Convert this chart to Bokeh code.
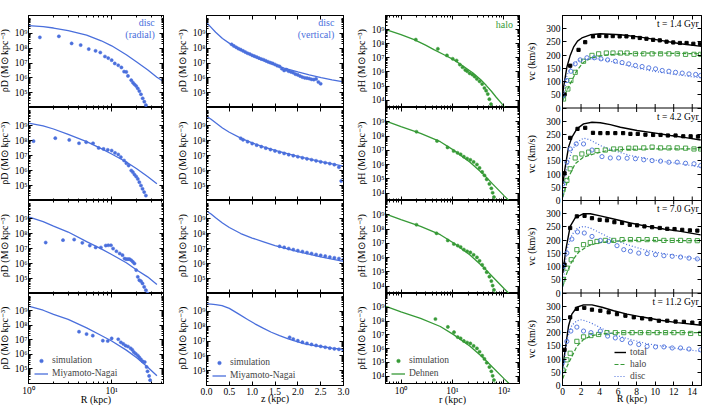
import numpy as np
from bokeh.plotting import figure
from bokeh.layouts import row, column
from bokeh.models import (Range1d, FixedTicker, CustomJSTickFormatter, NumeralTickFormatter,
                          LinearAxis, LogAxis, Span, Legend, LegendItem, Label)
from bokeh.core.properties import value
from bokeh.embed import file_html
from bokeh.resources import INLINE

FONT = "Liberation Serif"
TICK_FS = "9.5px"
LABEL_FS = "10px"
BLUE = "#4a6fdc"
GREEN = "#379a37"
TIMES = ["1.4", "4.2", "7.0", "11.2"]

# ---------------- disc, radial profile (R in kpc, log10 rho) ----------------
RAD_R_SIM_1 = [1.37, 2.32, 3.3, 4.24, 5.3, 6.4, 7.3, 8.3, 9.1, 10.0, 10.9, 12.0, 13.1, 14.1, 15.0,
               15.7, 17.2, 18.0, 18.8, 19.7, 20.6, 21.5, 22.5, 23.6, 24.7, 25.8]
RAD_LOGRHO_SIM_1 = [8.73, 8.80, 8.32, 8.21, 7.94, 7.82, 7.71, 7.44, 7.33, 7.19, 6.97, 6.85, 6.70, 6.42,
                    6.40, 6.13, 5.84, 5.68, 5.56, 5.45, 5.29, 5.11, 4.89, 4.62, 4.39, 4.16]
RAD_R_SIM_2 = [1.15, 2.1, 3.09, 4.05, 4.94, 5.97, 6.97, 7.98, 8.97, 10.0, 10.96, 12.0, 12.9, 14.1, 15.0,
               16.0, 17.2, 18.0, 18.8, 19.7, 20.6, 21.5, 22.5, 23.5, 24.6, 25.8]
RAD_LOGRHO_SIM_2 = [7.96, 8.16, 8.04, 7.82, 7.89, 7.82, 7.51, 7.44, 7.38, 7.33, 7.18, 7.07, 6.89, 6.67,
                    6.49, 6.33, 6.0, 5.89, 5.73, 5.6, 5.44, 5.22, 5.0, 4.78, 4.56, 4.33]
RAD_R_SIM_3 = [1.61, 2.6, 3.54, 4.44, 5.46, 6.42, 7.42, 8.5, 9.1, 9.8, 10.4, 11.4, 12.5, 13.5, 14.3, 15.0,
               15.7, 16.4, 17.2, 18.0, 18.8, 19.7, 20.6, 21.5, 22.5, 23.5, 24.6, 25.8, 27.0]
RAD_LOGRHO_SIM_3 = [7.4, 7.56, 7.6, 7.38, 7.2, 7.07, 7.07, 7.2, 7.22, 7.22, 7.0, 6.82, 6.67, 6.56, 6.33,
                    6.29, 6.29, 6.29, 6.22, 6.11, 6.0, 5.56, 5.11, 4.89, 4.82, 4.67, 4.44, 4.22, 4.0]
RAD_R_SIM_4 = [4.05, 4.99, 5.93, 7.83, 8.97, 10.0, 12.0, 12.9, 13.8, 14.7, 15.7, 16.9, 17.7, 18.5, 19.5,
               20.6, 21.5, 22.5, 23.7, 25.0, 26.3, 27.0, 28.2, 29.0]
RAD_LOGRHO_SIM_4 = [7.57, 7.41, 7.3, 6.95, 6.93, 7.11, 7.05, 6.84, 6.73, 6.61, 6.55, 6.43, 6.32, 6.16,
                    6.05, 5.93, 5.8, 5.66, 5.52, 5.48, 5.14, 4.84, 4.52, 4.23]
RAD_R_MN_1 = [1.0, 1.5, 2.0, 3.0, 5.0, 7.5, 10.0, 15.0, 20.0, 27.0, 35.0, 42.0]
RAD_LOGRHO_MN_1 = [9.52, 9.45, 9.36, 9.19, 8.88, 8.50, 8.16, 7.56, 7.07, 6.55, 6.04, 5.75]
RAD_R_MN = [1.0, 1.5, 2.0, 3.0, 5.0, 7.5, 10.0, 15.0, 20.0, 27.0, 35.0]
RAD_LOGRHO_MN_2 = [9.16, 8.98, 8.77, 8.41, 7.93, 7.46, 7.1, 6.57, 6.12, 5.6, 5.11]
RAD_LOGRHO_MN_3 = [9.11, 8.8, 8.5, 8.1, 7.46, 6.98, 6.6, 6.05, 5.57, 5.11, 4.6]
RAD_LOGRHO_MN_4 = [9.34, 9.05, 8.76, 8.42, 7.83, 7.31, 6.93, 6.3, 5.78, 5.14, 4.54]

# ---------------- disc, vertical profile (z in kpc, log10 rho) ----------------
VERT_Z_SIM_1 = [0.55, 0.6, 0.65, 0.7, 0.75, 0.8, 0.85, 0.9, 0.95, 1.0, 1.05, 1.1, 1.15, 1.2, 1.25, 1.3,
                1.35, 1.4, 1.45, 1.5, 1.55, 1.6, 1.65, 1.7, 1.75, 1.8, 1.85, 1.9, 1.95, 2.0, 2.05, 2.1,
                2.15, 2.2, 2.25, 2.3, 2.35, 2.4, 2.45, 2.5]
VERT_LOGRHO_SIM_1 = [8.26, 8.15, 8.06, 7.97, 7.9, 7.82, 7.74, 7.66, 7.6, 7.52, 7.46, 7.4, 7.33, 7.27, 7.22,
                     7.15, 7.08, 7.02, 6.97, 6.9, 6.82, 6.77, 6.62, 6.5, 6.55, 6.45, 6.4, 6.35, 6.25, 6.2,
                     6.12, 6.05, 6.0, 5.98, 5.95, 5.9, 5.88, 5.93, 5.72, 5.6]
VERT_Z_SIM_2 = [0.75, 0.8, 0.9, 1.0, 1.1, 1.2, 1.3, 1.4, 1.5, 1.6, 1.7, 1.8, 1.9, 2.0, 2.1, 2.2, 2.3, 2.4,
                2.5, 2.6, 2.7, 2.8, 2.9, 2.95]
VERT_LOGRHO_SIM_2 = [8.15, 8.05, 7.92, 7.8, 7.69, 7.59, 7.49, 7.4, 7.31, 7.22, 7.14, 7.06, 6.99, 6.92, 6.85,
                     6.78, 6.72, 6.65, 6.58, 6.52, 6.46, 6.39, 6.22, 5.3]
VERT_Z_SIM_3 = [1.6, 1.7, 1.8, 1.9, 2.0, 2.1, 2.2, 2.3, 2.4, 2.5, 2.6, 2.7, 2.8, 2.9, 3.0]
VERT_LOGRHO_SIM_3 = [7.15, 7.08, 7.0, 6.93, 6.86, 6.8, 6.73, 6.67, 6.6, 6.55, 6.49, 6.43, 6.38, 6.33, 6.28]
VERT_Z_SIM_4 = [1.82, 1.9, 2.0, 2.1, 2.2, 2.3, 2.4, 2.5, 2.6, 2.7, 2.8, 2.9, 3.0]
VERT_LOGRHO_SIM_4 = [7.25, 7.13, 7.02, 6.92, 6.84, 6.77, 6.7, 6.64, 6.58, 6.52, 6.47, 6.44, 6.4]
VERT_Z_MN_1 = [0.0, 0.1, 0.2, 0.35, 0.52, 0.7, 0.92, 1.15, 1.42, 1.7, 2.0, 2.25, 2.51, 2.75, 3.0]
VERT_LOGRHO_MN_1 = [9.73, 9.4, 9.07, 8.65, 8.29, 7.95, 7.62, 7.28, 6.96, 6.66, 6.4, 6.2, 6.02, 5.87, 5.73]
VERT_Z_MN = [0.0, 0.1, 0.2, 0.35, 0.5, 0.75, 1.0, 1.25, 1.5, 2.0, 2.5, 3.0]
VERT_LOGRHO_MN_2 = [9.62, 9.42, 9.18, 8.84, 8.55, 8.16, 7.84, 7.58, 7.34, 6.94, 6.6, 6.3]
VERT_LOGRHO_MN_3 = [9.5, 9.3, 9.05, 8.7, 8.4, 8.0, 7.7, 7.45, 7.2, 6.8, 6.45, 6.15]
VERT_Z_MN_4 = [0.0, 0.1, 0.2, 0.34, 0.5, 0.7, 0.9, 1.06, 1.25, 1.42, 1.6, 1.79, 2.0, 2.15, 2.3, 2.51, 2.75, 3.0]
VERT_LOGRHO_MN_4 = [9.51, 9.49, 9.45, 9.39, 9.2, 8.83, 8.45, 8.16, 7.85, 7.59, 7.37, 7.15, 6.95, 6.81,
                    6.72, 6.63, 6.52, 6.43]

# ---------------- halo, spherical profile (r in kpc, log10 rho) ----------------
HALO_R_SIM_1 = [1.94, 5.2, 7.8, 10.1, 12.0, 13.9, 15.7, 17.7, 19.3, 21.6, 24.3, 26.9, 29.8, 33.6, 37.7,
                41.7, 45.0, 48.4, 52.0, 56.0, 60.0]
HALO_LOGRHO_SIM_1 = [8.29, 7.64, 7.17, 6.93, 6.81, 6.52, 6.33, 6.14, 6.05, 5.9, 5.81, 5.67, 5.5, 5.33, 5.14,
                     4.86, 4.67, 4.43, 4.07, 3.71, 3.36]
HALO_R_SIM_2 = [2.0, 5.0, 8.0, 10.5, 12.5, 14.4, 16.6, 19.2, 22.2, 25.7, 29.8, 33.5, 37.7, 41.7, 46.2,
                52.0, 56.8, 60.2, 63.8, 66.7]
HALO_LOGRHO_SIM_2 = [8.3, 7.65, 7.2, 6.95, 6.82, 6.72, 6.55, 6.42, 6.33, 6.18, 6.0, 5.76, 5.48, 5.24, 4.96,
                     4.64, 4.33, 4.02, 3.72, 3.42]
HALO_R_SIM_3 = [2.0, 4.9, 8.1, 10.6, 12.6, 14.4, 16.6, 19.2, 22.2, 25.7, 29.8, 33.5, 37.7, 41.7, 46.2,
                52.0, 56.8, 60.2, 63.8, 66.7]
HALO_LOGRHO_SIM_3 = [8.3, 7.7, 7.2, 6.95, 6.84, 6.74, 6.56, 6.44, 6.36, 6.19, 6.01, 5.77, 5.49, 5.25, 4.97,
                     4.66, 4.35, 4.03, 3.73, 3.43]
HALO_R_SIM_4 = [4.66, 8.13, 10.7, 12.6, 14.4, 16.6, 19.2, 22.2, 25.7, 29.8, 33.5, 37.7, 41.7, 46.2, 52.0,
                56.8, 60.2, 63.8, 66.7]
HALO_LOGRHO_SIM_4 = [8.15, 7.58, 7.2, 6.84, 6.75, 6.56, 6.45, 6.38, 6.2, 6.02, 5.78, 5.5, 5.26, 4.98, 4.67,
                     4.36, 4.03, 3.73, 3.42]
HALO_R_FIT_1 = [0.51, 1.0, 1.8, 3.0, 4.35, 7.0, 10.5, 16.0, 25.0, 35.0, 45.0, 57.0, 70.0, 88.0, 108.0]
HALO_LOGRHO_FIT_1 = [9.0, 8.65, 8.29, 7.9, 7.58, 7.2, 6.87, 6.42, 5.92, 5.47, 5.05, 4.63, 4.22, 3.8, 3.4]
HALO_R_FIT = [0.51, 1.0, 2.4, 5.8, 10.5, 21.6, 39.0, 60.0, 100.0, 125.0]
HALO_LOGRHO_FIT_2 = [9.05, 8.66, 8.19, 7.6, 7.01, 6.18, 5.35, 4.64, 3.82, 3.47]
HALO_LOGRHO_FIT_3 = [9.05, 8.66, 8.19, 7.6, 7.02, 6.19, 5.36, 4.65, 3.83, 3.48]
HALO_LOGRHO_FIT_4 = [9.06, 8.67, 8.2, 7.61, 7.02, 6.19, 5.36, 4.65, 3.83, 3.48]

# ---------------- rotation curves (R in kpc, v_c in km/s) ----------------
TOT_LINE_R_1 = [0.04, 0.11, 0.29, 0.47, 0.83, 1.19, 1.62, 2.09, 3.0, 4.08, 6.25, 8.41, 10.58, 12.74, 15.0]
TOT_LINE_V_1 = [55, 78, 116, 154, 199, 230, 253, 265, 277, 281, 277, 268, 256, 243, 233]
TOT_SIM_R_1 = [0.22, 0.83, 1.73, 2.45, 3.29, 3.97, 4.73, 5.42, 6.17, 6.90, 7.62, 8.34, 9.06, 9.78, 10.50,
               11.23, 11.95, 12.67, 13.39, 14.12, 14.84]
TOT_SIM_V_1 = [51, 160, 220, 249, 271, 273, 272, 272, 271, 271, 268, 265, 262, 258, 256, 251, 248, 246, 246,
               243, 243]
HALO_SIM_R_1 = [0.11, 0.58, 0.90, 1.37, 2.27, 3.18, 3.90, 4.73, 5.45, 6.25, 6.97, 7.87, 8.77, 9.67, 10.58,
                11.48, 12.38, 13.28, 14.19, 14.91]
HALO_SIM_V_1 = [34, 72, 104, 135, 177, 199, 205, 208, 208, 208, 208, 205, 205, 205, 205, 205, 205, 203, 203, 203]
HALO_LINE_R_1 = [0.04, 0.47, 1.01, 1.55, 2.27, 3.18, 4.44, 6.25, 9.86, 15.0]
HALO_LINE_V_1 = [28, 66, 104, 142, 173, 190, 199, 205, 208, 205]
DISC_SIM_R_1 = [0.04, 0.47, 0.90, 1.37, 1.91, 2.64, 3.43, 4.15, 4.87, 5.70, 6.43, 7.15, 7.87, 8.59, 9.31,
                10.04, 10.76, 11.48, 12.20, 12.92, 13.65, 14.37, 14.9]
DISC_SIM_V_1 = [47, 104, 139, 167, 182, 190, 190, 186, 182, 177, 172, 167, 161, 157, 152, 148, 142, 139, 135,
                132, 129, 127, 123]
DISC_LINE_R_1 = [0.04, 0.47, 1.01, 1.73, 2.64, 3.72, 4.80, 6.25, 8.05, 9.86, 11.66, 14.91]
DISC_LINE_V_1 = [28, 123, 161, 180, 186, 186, 180, 167, 151, 139, 129, 114]

TOT_LINE_R_2 = [0.04, 0.29, 0.65, 1.01, 1.55, 2.27, 3.18, 4.08, 5.16, 6.25, 8.05, 9.86, 11.66, 13.47, 14.91]
TOT_LINE_V_2 = [63, 126, 202, 239, 271, 290, 296, 294, 287, 277, 265, 256, 246, 237, 229]
TOT_SIM_R_2 = [0.22, 0.83, 1.62, 2.45, 3.29, 4.08, 4.87, 5.70, 6.54, 7.33, 8.12, 8.95, 9.78, 10.58, 11.37,
               12.20, 13.03, 13.83, 14.62]
TOT_SIM_V_2 = [103, 237, 271, 275, 256, 255, 255, 255, 255, 252, 252, 249, 248, 248, 246, 246, 243, 243, 242]
HALO_SIM_R_2 = [0.04, 0.47, 0.83, 1.37, 2.09, 2.82, 3.72, 4.62, 5.52, 6.25, 7.15, 7.87, 8.77, 9.67, 10.58,
                11.48, 12.38, 13.28, 14.19, 14.91]
HALO_SIM_V_2 = [40, 76, 120, 161, 176, 183, 189, 191, 195, 195, 198, 198, 199, 202, 199, 199, 199, 198, 195, 195]
HALO_LINE_R_2 = [0.04, 0.65, 1.37, 2.27, 3.36, 4.80, 6.25, 9.86, 14.91]
HALO_LINE_V_2 = [13, 88, 139, 164, 176, 189, 193, 195, 195]
DISC_SIM_R_2 = [0.04, 0.47, 0.83, 1.48, 2.27, 3.18, 4.26, 5.16, 6.06, 6.97, 7.87, 8.77, 9.67, 10.58, 11.48,
                12.38, 13.28, 14.19, 14.91]
DISC_SIM_V_2 = [63, 145, 195, 214, 214, 191, 166, 161, 161, 160, 158, 154, 151, 149, 145, 145, 141, 139, 132]
DISC_LINE_R_2 = [0.04, 0.47, 1.01, 1.55, 2.27, 3.0, 4.08, 5.52, 7.33, 9.13, 10.94, 12.74, 14.91]
DISC_LINE_V_2 = [13, 126, 189, 220, 236, 229, 208, 189, 170, 158, 147, 139, 126]

TOT_LINE_R_3 = [0.04, 0.36, 0.83, 1.37, 2.27, 3.0, 4.08, 5.52, 7.33, 9.13, 10.94, 12.74, 14.91]
TOT_LINE_V_3 = [76, 164, 252, 284, 300, 300, 292, 280, 265, 252, 242, 233, 220]
TOT_SIM_R_3 = [0.22, 0.83, 1.55, 2.38, 3.18, 4.01, 4.80, 5.60, 6.43, 7.26, 8.05, 8.84, 9.67, 10.50, 11.30,
               12.09, 12.92, 13.75, 14.55]
TOT_SIM_V_3 = [107, 246, 290, 292, 283, 277, 275, 268, 265, 258, 256, 252, 249, 246, 243, 242, 239, 237, 236]
HALO_SIM_R_3 = [0.04, 0.47, 0.94, 1.55, 2.27, 3.0, 3.72, 4.62, 5.52, 6.43, 7.33, 8.23, 9.13, 10.04, 10.94,
                11.84, 12.74, 13.65, 14.55]
HALO_SIM_V_3 = [50, 94, 126, 164, 183, 191, 195, 199, 199, 202, 202, 202, 202, 202, 199, 199, 199, 198, 198]
HALO_LINE_R_3 = [0.04, 0.47, 1.01, 1.73, 2.64, 3.72, 5.16, 6.97, 9.86, 14.91]
HALO_LINE_V_3 = [25, 76, 120, 154, 176, 189, 195, 199, 199, 198]
DISC_SIM_R_3 = [0.04, 0.47, 1.01, 1.62, 2.35, 3.18, 4.08, 4.98, 5.88, 6.61, 7.33, 8.23, 9.13, 10.04, 10.94,
                11.84, 12.74, 13.65, 14.55]
DISC_SIM_V_3 = [101, 151, 204, 231, 227, 214, 199, 195, 179, 164, 158, 151, 149, 145, 141, 139, 136, 132, 129]
DISC_LINE_R_3 = [0.04, 0.47, 1.01, 1.62, 2.27, 3.0, 4.08, 5.52, 6.97, 8.77, 10.58, 12.74, 14.91]
DISC_LINE_V_3 = [25, 164, 220, 246, 252, 246, 227, 202, 183, 164, 151, 139, 126]

TOT_LINE_R_4 = [0.04, 0.29, 0.65, 1.01, 1.55, 2.27, 3.18, 4.26, 5.52, 6.97, 8.77, 10.58, 12.38, 15.0]
TOT_LINE_V_4 = [71, 135, 225, 270, 296, 305, 305, 296, 283, 270, 258, 247, 238, 228]
TOT_SIM_R_4 = [0.22, 0.83, 1.55, 2.35, 3.18, 4.08, 4.98, 5.88, 6.79, 7.69, 8.59, 9.49, 10.40, 11.30, 12.20,
               13.10, 14.01, 14.91]
TOT_SIM_V_4 = [135, 258, 290, 294, 287, 283, 277, 270, 264, 258, 254, 251, 245, 245, 242, 241, 238, 236]
HALO_SIM_R_4 = [0.04, 0.47, 0.83, 1.55, 2.27, 3.07, 3.90, 4.80, 5.70, 6.61, 7.51, 8.41, 9.31, 10.22, 11.12,
                12.02, 12.92, 13.83, 14.91]
HALO_SIM_V_4 = [58, 97, 122, 167, 184, 189, 193, 200, 200, 200, 200, 200, 200, 200, 200, 200, 200, 197, 197]
HALO_LINE_R_4 = [0.04, 0.47, 1.01, 1.55, 2.27, 3.18, 4.44, 6.25, 9.86, 15.0]
HALO_LINE_V_4 = [26, 71, 109, 148, 174, 189, 196, 200, 200, 200]
DISC_SIM_R_4 = [0.04, 0.47, 0.90, 1.55, 2.27, 3.07, 4.08, 4.87, 5.70, 6.43, 7.33, 8.23, 9.13, 10.04, 10.94,
                11.84, 12.74, 13.65, 14.91]
DISC_SIM_V_4 = [90, 167, 206, 221, 206, 200, 206, 187, 180, 174, 161, 155, 148, 146, 146, 142, 142, 138, 135]
DISC_LINE_R_4 = [0.04, 0.47, 1.01, 1.55, 2.09, 3.0, 4.08, 5.52, 7.33, 9.13, 10.94, 12.74, 15.0]
DISC_LINE_V_4 = [45, 174, 228, 245, 249, 238, 219, 193, 174, 158, 148, 138, 129]

RAD_SIM = [(RAD_R_SIM_1, RAD_LOGRHO_SIM_1), (RAD_R_SIM_2, RAD_LOGRHO_SIM_2),
           (RAD_R_SIM_3, RAD_LOGRHO_SIM_3), (RAD_R_SIM_4, RAD_LOGRHO_SIM_4)]
RAD_MN = [(RAD_R_MN_1, RAD_LOGRHO_MN_1), (RAD_R_MN, RAD_LOGRHO_MN_2),
          (RAD_R_MN, RAD_LOGRHO_MN_3), (RAD_R_MN, RAD_LOGRHO_MN_4)]
VERT_SIM = [(VERT_Z_SIM_1, VERT_LOGRHO_SIM_1), (VERT_Z_SIM_2, VERT_LOGRHO_SIM_2),
            (VERT_Z_SIM_3, VERT_LOGRHO_SIM_3), (VERT_Z_SIM_4, VERT_LOGRHO_SIM_4)]
VERT_MN = [(VERT_Z_MN_1, VERT_LOGRHO_MN_1), (VERT_Z_MN, VERT_LOGRHO_MN_2),
           (VERT_Z_MN, VERT_LOGRHO_MN_3), (VERT_Z_MN_4, VERT_LOGRHO_MN_4)]
HALO_SIM = [(HALO_R_SIM_1, HALO_LOGRHO_SIM_1), (HALO_R_SIM_2, HALO_LOGRHO_SIM_2),
            (HALO_R_SIM_3, HALO_LOGRHO_SIM_3), (HALO_R_SIM_4, HALO_LOGRHO_SIM_4)]
HALO_FIT = [(HALO_R_FIT_1, HALO_LOGRHO_FIT_1), (HALO_R_FIT, HALO_LOGRHO_FIT_2),
            (HALO_R_FIT, HALO_LOGRHO_FIT_3), (HALO_R_FIT, HALO_LOGRHO_FIT_4)]
ROT = [
    dict(tl=(TOT_LINE_R_1, TOT_LINE_V_1), ts=(TOT_SIM_R_1, TOT_SIM_V_1), hl=(HALO_LINE_R_1, HALO_LINE_V_1),
         hs=(HALO_SIM_R_1, HALO_SIM_V_1), dl=(DISC_LINE_R_1, DISC_LINE_V_1), ds=(DISC_SIM_R_1, DISC_SIM_V_1)),
    dict(tl=(TOT_LINE_R_2, TOT_LINE_V_2), ts=(TOT_SIM_R_2, TOT_SIM_V_2), hl=(HALO_LINE_R_2, HALO_LINE_V_2),
         hs=(HALO_SIM_R_2, HALO_SIM_V_2), dl=(DISC_LINE_R_2, DISC_LINE_V_2), ds=(DISC_SIM_R_2, DISC_SIM_V_2)),
    dict(tl=(TOT_LINE_R_3, TOT_LINE_V_3), ts=(TOT_SIM_R_3, TOT_SIM_V_3), hl=(HALO_LINE_R_3, HALO_LINE_V_3),
         hs=(HALO_SIM_R_3, HALO_SIM_V_3), dl=(DISC_LINE_R_3, DISC_LINE_V_3), ds=(DISC_SIM_R_3, DISC_SIM_V_3)),
    dict(tl=(TOT_LINE_R_4, TOT_LINE_V_4), ts=(TOT_SIM_R_4, TOT_SIM_V_4), hl=(HALO_LINE_R_4, HALO_LINE_V_4),
         hs=(HALO_SIM_R_4, HALO_SIM_V_4), dl=(DISC_LINE_R_4, DISC_LINE_V_4), ds=(DISC_SIM_R_4, DISC_SIM_V_4)),
]

# ---------------- geometry ----------------
# (figure width, left border, right border) for the three density columns
COL_GEOM = [(166, 14, 14), (167, 15, 13), (158, 15, 7)]
# (height, top border, bottom border) for the four epochs
ROW_GEOM = [(107, 15, 0), (93, 0, 0), (93, 0, 0), (114, 0, 22)]
STRIP_W = [11, 12, 12, 12]
BAND = 350
XLABEL_STANDOFF = -5

SUP_JS = """
const sup = {"0":"\u2070","1":"\u00b9","2":"\u00b2","3":"\u00b3","4":"\u2074","5":"\u2075",
             "6":"\u2076","7":"\u2077","8":"\u2078","9":"\u2079","-":"\u207b"};
const e = Math.round(Math.log10(tick));
return "10" + String(e).split("").map(c => sup[c]).join("");
"""


def pow10():
    return CustomJSTickFormatter(code=SUP_JS)


def blank():
    return CustomJSTickFormatter(code="return '';")


def log_ticker(major, lo, hi):
    minor = [k * 10.0 ** e for e in range(lo, hi + 1) for k in range(1, 10)]
    return FixedTicker(ticks=major, minor_ticks=minor)


def style_axis(ax, show_labels=True, label=None, label_standoff=0):
    ax.major_tick_in = 4
    ax.major_tick_out = 0
    ax.minor_tick_in = 2
    ax.minor_tick_out = 0
    ax.axis_line_color = "black"
    ax.major_tick_line_color = "black"
    ax.minor_tick_line_color = "black"
    ax.major_label_text_font = FONT
    ax.major_label_text_color = "black"
    ax.axis_label = label
    ax.axis_label_text_font = FONT
    ax.axis_label_text_font_size = LABEL_FS
    ax.axis_label_text_font_style = "normal"
    ax.axis_label_text_color = "black"
    ax.axis_label_standoff = label_standoff
    if show_labels:
        ax.major_label_text_font_size = TICK_FS
        ax.major_label_standoff = 2
    else:
        ax.formatter = blank()
        ax.major_label_text_font_size = "1px"
        ax.major_label_standoff = 0


def text_label(p, x, y, text, color="black", align="center", size=LABEL_FS, y_range_name="default"):
    p.add_layout(Label(x=x, y=y, text=text, text_color=color, text_align=align,
                       text_baseline="middle", text_font=FONT, text_font_size=size,
                       y_range_name=y_range_name))


def small_legend(items, loc, glyph_w=14, row_h=9, spacing=3):
    return Legend(items=items, location=loc, border_line_alpha=0, background_fill_alpha=0,
                  label_text_font=FONT, label_text_font_size=TICK_FS, glyph_width=glyph_w,
                  glyph_height=row_h, label_height=row_h, spacing=spacing, padding=3, margin=0,
                  label_standoff=4)


def title_strip(width, text):
    """Narrow strip holding the rotated y-axis title of each of the four epochs."""
    g = figure(width=width, height=407, x_range=Range1d(0, width), y_range=Range1d(0, 4 * BAND),
               x_axis_location=None, y_axis_location=None, min_border_left=0, min_border_right=0,
               min_border_top=15, min_border_bottom=22, output_backend="svg", toolbar_location=None)
    g.grid.visible = False
    g.outline_line_color = None
    g.text(x=[width / 2 - 1.2] * 4, y=[BAND * (k + 0.5) for k in range(4)], text=[text] * 4,
           angle=np.pi / 2, text_align="center", text_baseline="middle",
           text_font=value(FONT), text_font_size=value(LABEL_FS), text_color="black")
    return g


def density_panel(ci, ri):
    w, bl, br = COL_GEOM[ci]
    h, bt, bb = ROW_GEOM[ri]
    if ci == 0:
        xtype, xlim, ylim = "log", (1, 42), (1e4, 1.6e10)
        xt = lambda: log_ticker([1, 10], 0, 1)
        yt = lambda: log_ticker([1e5, 1e6, 1e7, 1e8, 1e9], 4, 10)
        xfmt, color = pow10, BLUE
        xs, ys = RAD_SIM[ri]
        lx, ly = RAD_MN[ri]
        xlab, fit_name = "R (kpc)", "Miyamoto-Nagai"
    elif ci == 1:
        xtype, xlim, ylim = "linear", (0, 3), (1e4, 1.6e10)
        xt = lambda: FixedTicker(ticks=[0, 0.5, 1, 1.5, 2, 2.5, 3], minor_ticks=[])
        yt = lambda: log_ticker([1e5, 1e6, 1e7, 1e8, 1e9], 4, 10)
        xfmt, color = (lambda: NumeralTickFormatter(format="0.0")), BLUE
        xs, ys = VERT_SIM[ri]
        lx, ly = VERT_MN[ri]
        xlab, fit_name = "z (kpc)", "Miyamoto-Nagai"
    else:
        xtype, xlim, ylim = "log", (0.5, 200), (3e3, 1e10)
        xt = lambda: log_ticker([1, 10, 100], -1, 2)
        yt = lambda: log_ticker([1e4, 1e5, 1e6, 1e7, 1e8, 1e9], 3, 10)
        xfmt, color = pow10, GREEN
        xs, ys = HALO_SIM[ri]
        lx, ly = HALO_FIT[ri]
        xlab, fit_name = "r (kpc)", "Dehnen"

    p = figure(width=w, height=h, x_axis_type=xtype, y_axis_type="log",
               x_range=Range1d(*xlim), y_range=Range1d(*ylim),
               min_border_left=bl, min_border_right=br, min_border_top=bt, min_border_bottom=bb,
               output_backend="svg", toolbar_location=None)
    p.grid.visible = False
    p.outline_line_color = "black"
    p.background_fill_color = "white"
    p.border_fill_color = "white"

    fit = p.line(lx, 10 ** np.array(ly), line_color=color, line_width=1.3)
    sim = p.scatter(xs, 10 ** np.array(ys), marker="circle", size=3.2, fill_color=color,
                    line_color=color, line_width=0.5)

    bottom = ri == 3
    xa = p.xaxis[0]
    xa.ticker = xt()
    xa.formatter = xfmt()
    style_axis(xa, show_labels=bottom, label=xlab if bottom else None, label_standoff=XLABEL_STANDOFF)
    ya = p.yaxis[0]
    ya.ticker = yt()
    ya.formatter = pow10()
    style_axis(ya, True)
    ya.major_label_standoff = 1

    AxisX = LogAxis if xtype == "log" else LinearAxis
    top = AxisX(ticker=xt())
    style_axis(top, False)
    p.add_layout(top, "above")
    right = LogAxis(ticker=yt())
    style_axis(right, False)
    p.add_layout(right, "right")

    if ri == 0:
        tag = {0: ["disc", "(radial)"], 1: ["disc", "(vertical)"], 2: ["halo"]}[ci]
        xpos = {0: 33.0, 1: 2.8, 2: 150.0}[ci]
        ypos = [5.4e9, 8.8e8] if ci < 2 else [2.3e9]
        for t, yv in zip(tag, ypos):
            text_label(p, xpos, yv, t, color=color, align="right")
    if bottom:
        p.add_layout(small_legend([LegendItem(label="simulation", renderers=[sim]),
                                   LegendItem(label=fit_name, renderers=[fit])], (3, 2)))
    return p


YTITLES = ["ρD (M⊙ kpc⁻³)", "ρD (M⊙ kpc⁻³)", "ρH (M⊙ kpc⁻³)"]
blocks = []
for ci in range(3):
    blocks.append(title_strip(STRIP_W[ci], YTITLES[ci]))
    blocks.append(column(*[density_panel(ci, ri) for ri in range(4)], spacing=0))

# ---------------- rotation curves: four epochs stacked in one frame ----------------
p4 = figure(width=168, height=407, x_range=Range1d(0, 15), y_range=Range1d(0, 4 * BAND),
            min_border_left=24, min_border_right=5, min_border_top=15, min_border_bottom=22,
            output_backend="svg", toolbar_location=None)
p4.grid.visible = False
p4.outline_line_color = "black"
p4.extra_y_ranges = {f"r{k}": Range1d(-BAND * (3 - k), BAND * (k + 1)) for k in range(4)}

XT4 = [0, 2, 4, 6, 8, 10, 12, 14]
YT4 = [v + BAND * k for k in range(4) for v in range(0, 301, 50)]

xa = p4.xaxis[0]
xa.ticker = FixedTicker(ticks=XT4)
style_axis(xa, True, label="R (kpc)", label_standoff=XLABEL_STANDOFF)
ya = p4.yaxis[0]
ya.ticker = FixedTicker(ticks=YT4)
ya.formatter = CustomJSTickFormatter(code="return String(Math.round(tick) % 350);")
style_axis(ya, True)
top4 = LinearAxis(ticker=FixedTicker(ticks=XT4))
style_axis(top4, False)
p4.add_layout(top4, "above")
right4 = LinearAxis(ticker=FixedTicker(ticks=YT4))
style_axis(right4, False)
p4.add_layout(right4, "right")

for k in range(1, 4):
    p4.add_layout(Span(location=BAND * k, dimension="width", line_color="black", line_width=1))
# inward ticks on both sides of each inner panel boundary
bx = [x for k in range(1, 4) for x in XT4]
by = [BAND * k for k in range(1, 4) for x in XT4]
p4.scatter(bx, by, marker="dash", angle=np.pi / 2, size=8, line_color="black", line_width=1)

legend_r = {}
for ri, d in enumerate(ROT):
    rn = f"r{ri}"
    tl = p4.line(*d["tl"], y_range_name=rn, line_color="black", line_width=1.4)
    hl = p4.line(*d["hl"], y_range_name=rn, line_color=GREEN, line_width=1.2, line_dash="4 2")
    dl = p4.line(*d["dl"], y_range_name=rn, line_color=BLUE, line_width=1.2, line_dash="1 2")
    p4.scatter(*d["ts"], y_range_name=rn, marker="square", size=3.2, fill_color="black", line_color="black")
    p4.scatter(*d["hs"], y_range_name=rn, marker="square", size=4.2, fill_color=None, line_color=GREEN,
               line_width=0.9)
    p4.scatter(*d["ds"], y_range_name=rn, marker="circle", size=4.2, fill_color=None, line_color=BLUE,
               line_width=0.9)
    text_label(p4, 14.7, 316, f"t = {TIMES[ri]} Gyr", align="right", size=TICK_FS, y_range_name=rn)
    if ri == 3:
        legend_r = dict(total=tl, halo=hl, disc=dl)

p4.add_layout(small_legend([LegendItem(label=k, renderers=[v]) for k, v in legend_r.items()],
                           (49, 1), glyph_w=12, row_h=8, spacing=2))

blocks.append(title_strip(STRIP_W[3], "vc (km/s)"))
blocks.append(p4)
layout = row(*blocks, spacing=0)
open("out.html", "w").write(file_html(layout, INLINE))
